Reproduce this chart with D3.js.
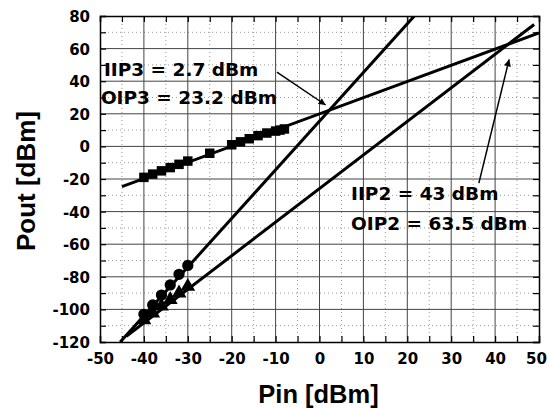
<!DOCTYPE html>
<html>
<head>
<meta charset="utf-8">
<script src="https://cdn.jsdelivr.net/npm/d3@7"></script>
<style>
  body { margin: 0; background: #fff; }
  svg { display: block; }
  .tick text { font-family: "DejaVu Sans", sans-serif; font-weight: bold; font-size: 15px; fill: #000; }
</style>
</head>
<body>
<div id="chart"></div>
<script>
// measured points (Pin in dBm, Pout in dBm)
var pinFund = [-40, -38, -36, -34, -32, -30, -25, -20, -18, -16, -14, -12, -10, -9, -8];
var poutFund = [-19, -17, -15, -13, -11, -9, -4.2, 1, 2.8, 4.7, 6.6, 8.2, 9.4, 10, 10.7];

var pinIm3 = [-40, -38, -36, -34, -32, -30];
var poutIm3 = [-103, -97.3, -91.2, -85, -78.5, -73];

var pinIm2 = [-40, -38, -36, -34, -32, -30];
var poutIm2 = [-106.5, -102.3, -98, -94, -90, -86];

// extrapolated straight lines (end points)
var pinFundLine = [-45, 50];
var poutFundLine = [-24.7, 69.6];
var pinIm3Line = [-45.4, 21.6];
var poutIm3Line = [-120, 80];
var pinIm2Line = [-44, 48.9];
var poutIm2Line = [-116.5, 74.8];

// axis ticks
var xMajor = [-50, -40, -30, -20, -10, 0, 10, 20, 30, 40, 50];
var yMajor = [-120, -100, -80, -60, -40, -20, 0, 20, 40, 60, 80];

var margin = {top: 16, right: 9, bottom: 66, left: 100};
var W = 548, H = 408;
var width = W - margin.left - margin.right,
    height = H - margin.top - margin.bottom;

var svg = d3.select('#chart').append('svg')
    .attr('width', W)
    .attr('height', H);

var g = svg.append('g')
    .attr('transform', 'translate(' + margin.left + ',' + margin.top + ')');

var x = d3.scaleLinear().domain([-50, 50]).range([0, width]);
var y = d3.scaleLinear().domain([-120, 80]).range([height, 0]);

var xMinor = d3.range(-45, 50, 10);
var yMinor = d3.range(-110, 80, 20);
var xAll = d3.range(-50, 51, 5);
var yAll = d3.range(-120, 81, 10);

// grid
g.append('g').selectAll('line').data(xMinor).enter().append('line')
    .attr('x1', function (d) { return x(d); }).attr('x2', function (d) { return x(d); })
    .attr('y1', 0).attr('y2', height)
    .attr('stroke', '#999').attr('stroke-dasharray', '1,3');
g.append('g').selectAll('line').data(yMinor).enter().append('line')
    .attr('y1', function (d) { return y(d); }).attr('y2', function (d) { return y(d); })
    .attr('x1', 0).attr('x2', width)
    .attr('stroke', '#999').attr('stroke-dasharray', '1,3');
g.append('g').selectAll('line').data(xMajor.slice(1, -1)).enter().append('line')
    .attr('x1', function (d) { return x(d); }).attr('x2', function (d) { return x(d); })
    .attr('y1', 0).attr('y2', height)
    .attr('stroke', '#444').attr('stroke-width', 1);
g.append('g').selectAll('line').data(yMajor.slice(1, -1)).enter().append('line')
    .attr('y1', function (d) { return y(d); }).attr('y2', function (d) { return y(d); })
    .attr('x1', 0).attr('x2', width)
    .attr('stroke', '#444').attr('stroke-width', 1);

// axes
var xAxisB = d3.axisBottom(x).tickValues(xAll).tickSize(-6)
    .tickFormat(function (d) { return d % 10 === 0 ? d : ''; });
var xAxisT = d3.axisTop(x).tickValues(xAll).tickSize(-6).tickFormat('');
var yAxisL = d3.axisLeft(y).tickValues(yAll).tickSize(-6)
    .tickFormat(function (d) { return d % 20 === 0 ? d : ''; });
var yAxisR = d3.axisRight(y).tickValues(yAll).tickSize(-6).tickFormat('');

var gxB = g.append('g').attr('transform', 'translate(0,' + height + ')').call(xAxisB);
var gxT = g.append('g').call(xAxisT);
var gyL = g.append('g').call(yAxisL);
var gyR = g.append('g').attr('transform', 'translate(' + width + ',0)').call(yAxisR);

[gxB, gxT, gyL, gyR].forEach(function (a) {
    a.select('.domain').attr('stroke', '#000').attr('stroke-width', 1.5);
    a.selectAll('.tick line').attr('stroke', '#000').attr('stroke-width', 1.2);
});
gxB.selectAll('.tick text').attr('y', 22).attr('dy', 0)
    .attr('x', function (d) { return d === 50 ? -3 : 0; });
gyL.selectAll('.tick text').attr('x', -10).attr('dy', '0.36em');

// clip
svg.append('defs').append('clipPath').attr('id', 'clip')
    .append('rect').attr('width', width).attr('height', height);

var plot = g.append('g').attr('clip-path', 'url(#clip)');

function seg(px, py) {
    return d3.line().x(function (d) { return x(d[0]); }).y(function (d) { return y(d[1]); })(d3.zip(px, py));
}

plot.append('path').attr('d', seg(pinFundLine, poutFundLine))
    .attr('fill', 'none').attr('stroke', '#000').attr('stroke-width', 3);
plot.append('path').attr('d', seg(pinIm3Line, poutIm3Line))
    .attr('fill', 'none').attr('stroke', '#000').attr('stroke-width', 3);
plot.append('path').attr('d', seg(pinIm2Line, poutIm2Line))
    .attr('fill', 'none').attr('stroke', '#000').attr('stroke-width', 3);

// markers
plot.append('g').selectAll('path').data(d3.zip(pinFund, poutFund)).enter().append('path')
    .attr('d', d3.symbol().type(d3.symbolSquare).size(90))
    .attr('transform', function (d) { return 'translate(' + x(d[0]) + ',' + y(d[1]) + ')'; })
    .attr('fill', '#000');
plot.append('g').selectAll('path').data(d3.zip(pinIm3, poutIm3)).enter().append('path')
    .attr('d', d3.symbol().type(d3.symbolCircle).size(100))
    .attr('transform', function (d) { return 'translate(' + x(d[0]) + ',' + y(d[1]) + ')'; })
    .attr('fill', '#000');
plot.append('g').selectAll('path').data(d3.zip(pinIm2, poutIm2)).enter().append('path')
    .attr('d', d3.symbol().type(d3.symbolTriangle).size(95))
    .attr('transform', function (d) { return 'translate(' + x(d[0]) + ',' + y(d[1]) + ')'; })
    .attr('fill', '#000');

// annotations
var notes = [
    {t: 'IIP3 = 2.7 dBm', px: -49.1, py: 43.2},
    {t: 'OIP3 = 23.2 dBm', px: -49.8, py: 26},
    {t: 'IIP2 = 43 dBm', px: 7.2, py: -32.9},
    {t: 'OIP2 = 63.5 dBm', px: 7.2, py: -51.3}
];
g.selectAll('.note').data(notes).enter().append('text')
    .attr('class', 'note')
    .attr('x', function (d) { return x(d.px); })
    .attr('y', function (d) { return y(d.py); })
    .attr('font-family', '"DejaVu Sans", sans-serif')
    .attr('font-weight', 'bold')
    .attr('font-size', 18.5)
    .text(function (d) { return d.t; });

svg.select('defs').append('marker')
    .attr('id', 'arrow').attr('viewBox', '0 0 10 10')
    .attr('refX', 10).attr('refY', 5)
    .attr('markerWidth', 9).attr('markerHeight', 7)
    .attr('markerUnits', 'userSpaceOnUse')
    .attr('orient', 'auto')
    .append('path').attr('d', 'M0,0L10,5L0,10z').attr('fill', '#000');

var arrows = [
    {x1: -9.7, y1: 45.6, x2: 1.4, y2: 25.4},
    {x1: 36.3, y1: -22.5, x2: 43.2, y2: 53.4}
];
g.selectAll('.arr').data(arrows).enter().append('line')
    .attr('x1', function (d) { return x(d.x1); }).attr('y1', function (d) { return y(d.y1); })
    .attr('x2', function (d) { return x(d.x2); }).attr('y2', function (d) { return y(d.y2); })
    .attr('stroke', '#000').attr('stroke-width', 1.5)
    .attr('marker-end', 'url(#arrow)');

// titles
svg.append('text')
    .attr('x', margin.left + width / 2 - 1).attr('y', 403)
    .attr('text-anchor', 'middle')
    .attr('font-family', '"Liberation Sans", Arial, sans-serif')
    .attr('font-weight', 'bold').attr('font-size', 25.5)
    .text('Pin [dBm]');
svg.append('text')
    .attr('transform', 'translate(35,' + (margin.top + height / 2 + 2) + ') rotate(-90)')
    .attr('text-anchor', 'middle')
    .attr('font-family', '"Liberation Sans", Arial, sans-serif')
    .attr('font-weight', 'bold').attr('font-size', 26)
    .text('Pout [dBm]');
</script>
</body>
</html>
